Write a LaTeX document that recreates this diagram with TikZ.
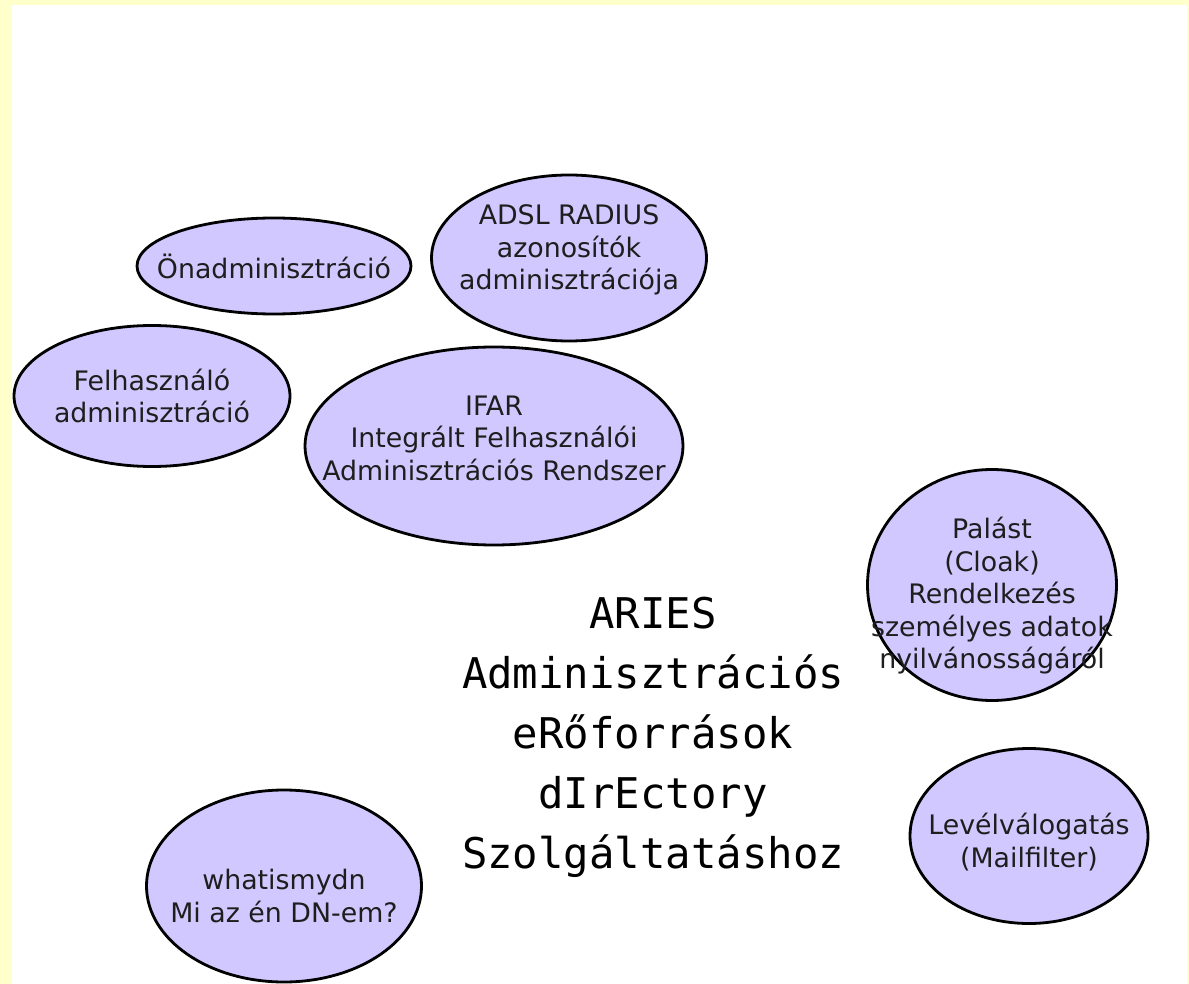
\documentclass[tikz,border=0pt]{standalone}
\usepackage{fontspec}
\setmainfont{DejaVu Sans}
\newfontfamily\titlefont{DejaVu Sans Mono}
\usetikzlibrary{shapes.geometric}
\definecolor{bgyellow}{RGB}{255,255,204}
\definecolor{bubblefill}{RGB}{208,200,255}
\definecolor{inkgray}{RGB}{30,30,30}
\begin{document}
\begin{tikzpicture}[x=1pt,y=-1pt,
  bub/.style={ellipse, draw=black, line width=2.8pt, fill=bubblefill, inner sep=0pt},
  lbl/.style={align=center, text=inkgray, inner sep=0pt, font=\fontsize{26.8}{32.5}\selectfont},
  titletext/.style={align=center, text=black, inner sep=0pt, font=\titlefont\fontsize{42.3}{60}\selectfont}]
\useasboundingbox (0,0) rectangle (1189,984);
\fill[bgyellow] (0,0) rectangle (1189,984);
\fill[white] (12,5) rectangle (1187,984);

\node[bub, minimum width=274, minimum height=96] (onadm) at (274,266) {};
\node[lbl] (onadm-t) at (274,266) {Önadminisztráció};

\node[bub, minimum width=275, minimum height=166] (adsl) at (569,258) {};
\node[lbl] (adsl-t) at (569,250) {ADSL RADIUS\\azonosítók\\adminisztrációja};

\node[bub, minimum width=276, minimum height=141] (felh) at (152,396) {};
\node[lbl] (felh-t) at (152,396) {Felhasználó\\adminisztráció};

\node[bub, minimum width=378, minimum height=198] (ifar) at (494,446) {};
\node[lbl] (ifar-t) at (494,438) {IFAR\\Integrált Felhasználói\\Adminisztrációs Rendszer};

\node[bub, minimum width=249, minimum height=231] (palast) at (992,585) {};
\node[lbl] (palast-t) at (992,596) {Palást\\(Cloak)\\Rendelkezés\\személyes adatok\\nyilvánosságáról};

\node[bub, minimum width=238, minimum height=175] (level) at (1029,836) {};
\node[lbl] (level-t) at (1029,842) {Levélválogatás\\(Mailfilter)};

\node[bub, minimum width=275, minimum height=192] (whoami) at (284,886) {};
\node[lbl] (whoami-t) at (284,896) {whatismydn\\Mi az én DN-em?};

\node[titletext] (aries) at (653,737) {ARIES\\Adminisztrációs\\eRőforrások\\dIrEctory\\Szolgáltatáshoz};
\end{tikzpicture}
\end{document}
